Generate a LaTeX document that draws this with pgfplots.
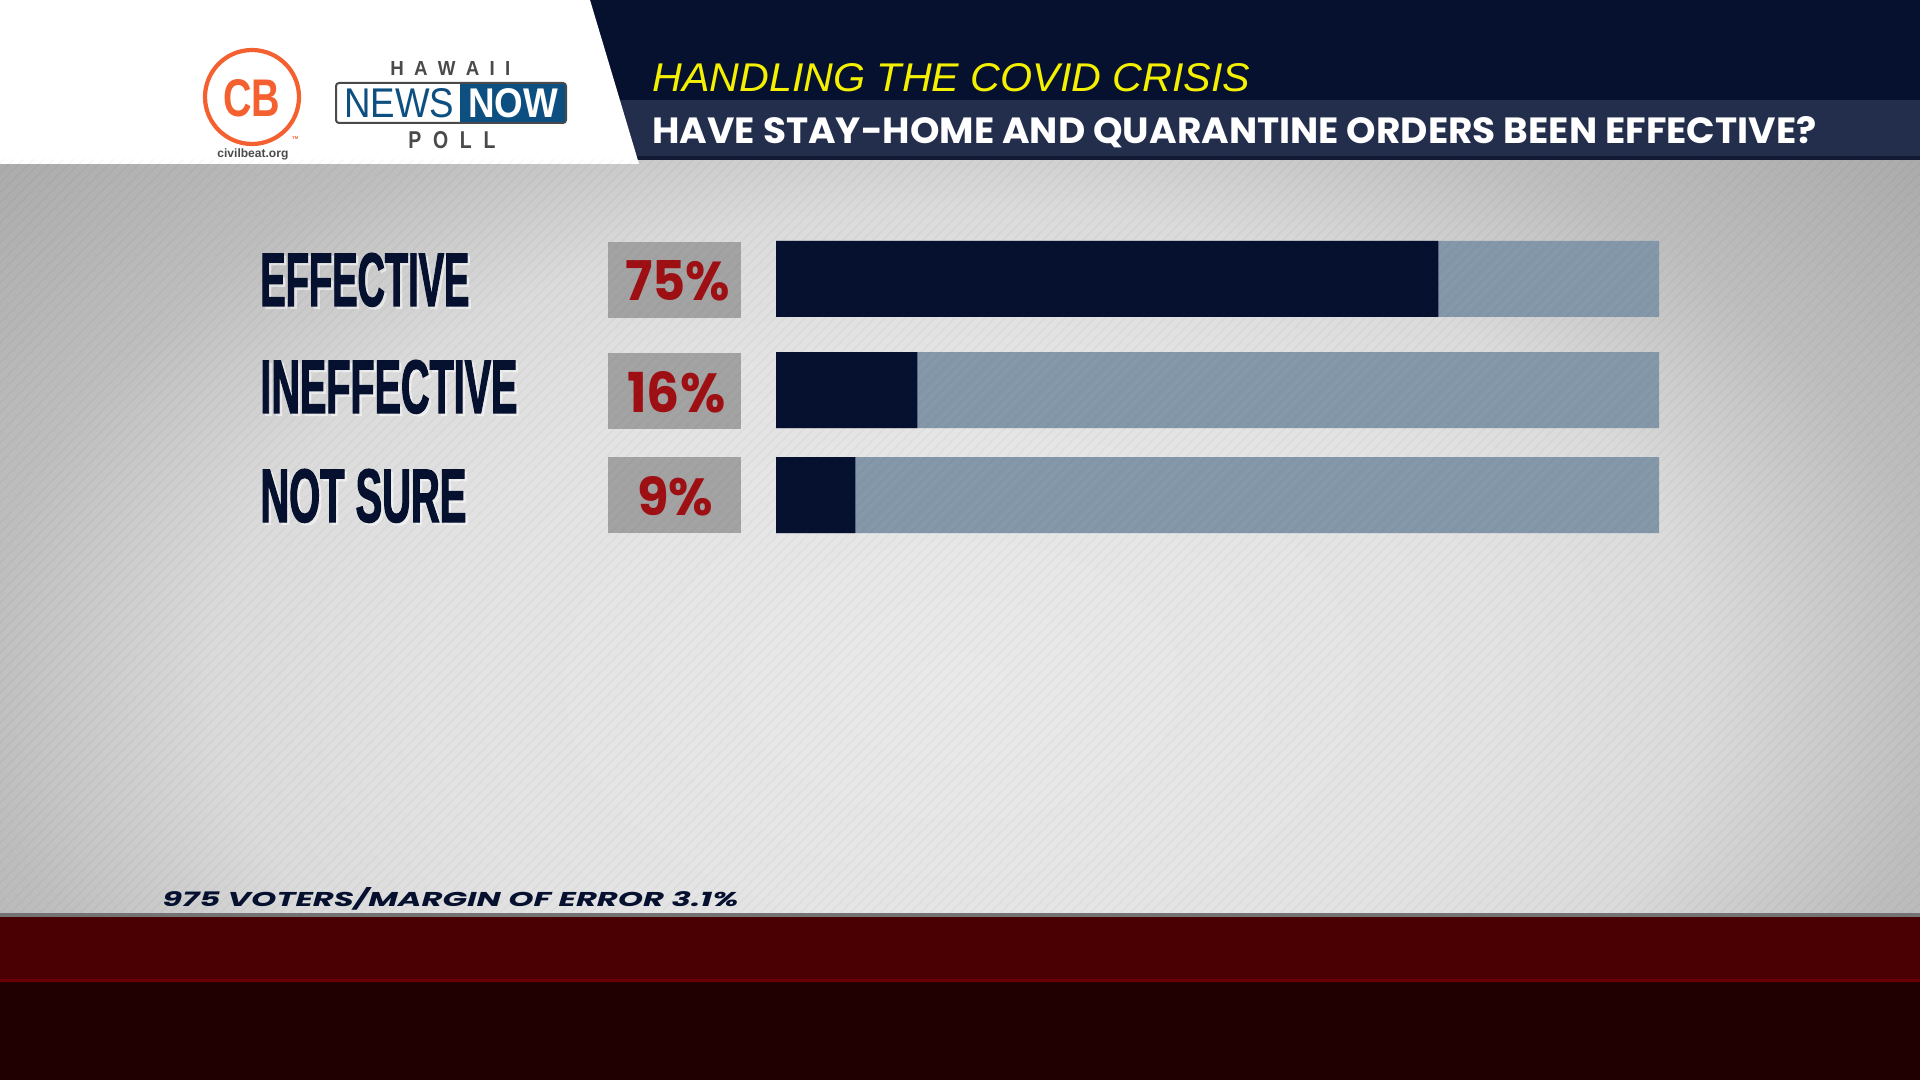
\documentclass[border=0pt]{standalone}
\usepackage{pgfplots}
\pgfplotsset{compat=1.18}
\usepackage{graphicx}
\usepackage{fontspec}
\setmainfont{Liberation Sans}
\newfontfamily\pop{Poppins}
\newfontfamily\condfont{Liberation Sans}[UprightFont=* Bold, FakeStretch=0.6, FakeBold=1.5]

\definecolor{navy}{HTML}{061130}
\definecolor{band}{HTML}{232D4C}
\definecolor{bandline}{HTML}{121A33}
\definecolor{barlight}{HTML}{8498AA}
\definecolor{pctbox}{HTML}{A3A3A3}
\definecolor{pctred}{HTML}{9E1014}
\definecolor{bgc}{HTML}{E9E9E9}
\definecolor{bgi}{HTML}{E3E3E3}
\definecolor{bgm}{HTML}{DBDBDB}
\definecolor{bgo}{HTML}{BEBEBE}
\definecolor{bge}{HTML}{ABABAB}
\definecolor{titleyellow}{HTML}{F4F000}
\definecolor{cborange}{HTML}{F4602F}
\definecolor{hnnblue}{HTML}{0D4F80}
\definecolor{hnngrey}{HTML}{4A4A4A}
\definecolor{redband}{HTML}{4A0003}
\definecolor{redline}{HTML}{6A0004}
\definecolor{maroon}{HTML}{210002}

% soft studio vignette (TikZ maps the central 50bp square onto the path)
\pgfdeclareradialshading{vignette}{\pgfpoint{0bp}{0bp}}{%
  color(0bp)=(bgc); color(10bp)=(bgi); color(14bp)=(bgm);
  color(18.5bp)=(bgo); color(24bp)=(bge); color(50bp)=(bge)}

% category label with a faint light halo
\newcommand\catlabel[4]{%
  \node[anchor=base west, inner sep=0, text=white, opacity=0.45] at (#1+2.5,#2+2.5)
    {\resizebox{#3}{26.5pt}{\condfont #4}};
  \node[anchor=base west, inner sep=0, text=navy] at (#1,#2)
    {\resizebox{#3}{26.5pt}{\condfont #4}};}

\begin{document}
\begin{tikzpicture}
% ---------- backdrop, header and footer (1 unit = 1 px, y downwards) ----------
\begin{scope}[x=0.5pt,y=-0.5pt]
\path[use as bounding box] (0,0) rectangle (1920,1080);
\begin{scope}
\clip (0,160) rectangle (1920,914);
\shade[shading=vignette] (-360,-160) rectangle (2280,1520);
\end{scope}
% header
\fill[navy] (0,0) rectangle (1920,160);
\fill[band] (560,100) rectangle (1920,156);
\fill[bandline] (560,156) rectangle (1920,160);
\fill[white] (0,0) -- (590,0) -- (639,164) -- (0,164) -- cycle;
% footer bands
\fill[black!55] (0,913) rectangle (1920,917);
\fill[redband] (0,917) rectangle (1920,979);
\fill[redline] (0,979) rectangle (1920,982);
\fill[maroon] (0,982) rectangle (1920,1080);

% Civil Beat logo
\draw[cborange, line width=2.1pt] (252,97) circle[radius=47];
\node[anchor=base west, inner sep=0, text=cborange] at (223,117)
  {\resizebox{28.5pt}{18.5pt}{\bfseries CB}};
\node[anchor=base west, inner sep=0, text=cborange] at (292,140)
  {\resizebox{3pt}{!}{\bfseries TM}};
\node[anchor=base west, inner sep=0, text=hnngrey] at (217,158)
  {\resizebox{35.5pt}{!}{\bfseries civilbeat.org}};

% Hawaii News Now poll logo
\node[anchor=base west, inner sep=0, text=hnngrey] at (390,76)
  {\resizebox{60pt}{7pt}{\bfseries H\hspace{0.55em}A\hspace{0.55em}W\hspace{0.55em}A\hspace{0.55em}I\hspace{0.55em}I}};
\draw[hnngrey, line width=1pt, fill=white, rounded corners=1.5pt] (336,83) rectangle (566,123);
\fill[hnnblue] (460,84) rectangle (565,122);
\node[anchor=base west, inner sep=0, text=hnnblue] at (344,118)
  {\resizebox{55pt}{14.5pt}{NEWS}};
\node[anchor=base west, inner sep=0, text=white] at (468,118)
  {\resizebox{45pt}{14.5pt}{\bfseries NOW}};
\node[anchor=base west, inner sep=0, text=hnngrey] at (408,149)
  {\resizebox{43.5pt}{8.5pt}{\bfseries P\hspace{0.6em}O\hspace{0.6em}L\hspace{0.6em}L}};

% titles
\node[anchor=base west, inner sep=0, text=titleyellow] at (652,92)
  {\resizebox{299pt}{14pt}{\itshape HANDLING THE COVID CRISIS}};
\node[anchor=base west, inner sep=0, text=white] at (652,144)
  {\resizebox{582pt}{13.5pt}{\pop\bfseries HAVE STAY-HOME AND QUARANTINE ORDERS BEEN EFFECTIVE?}};

% category labels
\catlabel{260}{306}{104.5pt}{EFFECTIVE}
\catlabel{260}{413}{128.5pt}{INEFFECTIVE}
\catlabel{260}{522}{103pt}{NOT SURE}

% percentage boxes
\fill[pctbox] (608,242) rectangle (741,318);
\fill[pctbox] (608,353) rectangle (741,429);
\fill[pctbox] (608,457) rectangle (741,533);
\node[anchor=base west, inner sep=0, text=pctred] at (625,301)
  {\resizebox{52.5pt}{20pt}{\pop\bfseries 75\%}};
\node[anchor=base west, inner sep=0, text=pctred] at (627,413)
  {\resizebox{49pt}{20.5pt}{\pop\bfseries 16\%}};
\node[anchor=base west, inner sep=0, text=pctred] at (637,515)
  {\resizebox{38pt}{19.5pt}{\pop\bfseries 9\%}};

% sample note
\node[anchor=base west, inner sep=0, text=navy] at (162,906)
  {\resizebox{288pt}{9.5pt}{\pop\bfseries\itshape 975 VOTERS/MARGIN OF ERROR 3.1\%}};
\end{scope}

% ---------- the bars ----------
\begin{axis}[
  at={(388pt,-266.5pt)}, anchor=south west,
  scale only axis, width=441.5pt, height=146pt,
  xmin=0, xmax=100, ymin=-533, ymax=-241,
  hide axis, clip=false,
  xbar, bar width=38pt, bar shift=0pt,
]
% full-length track
\addplot[fill=barlight, draw=none] coordinates {(100,-279) (100,-390) (100,-495)};
% share of respondents
\addplot[fill=navy, draw=none] coordinates {(75,-279) (16,-390) (9,-495)};
\end{axis}

% ---------- fine diagonal texture over the backdrop ----------
\begin{scope}[x=0.5pt,y=-0.5pt]
\clip (0,160) rectangle (1920,913);
\foreach \i in {-800,-790,...,1920}
  \draw[black, opacity=0.035, line width=0.6pt] (\i,913) -- ++(800,-800);
\end{scope}
\end{tikzpicture}
\end{document}
